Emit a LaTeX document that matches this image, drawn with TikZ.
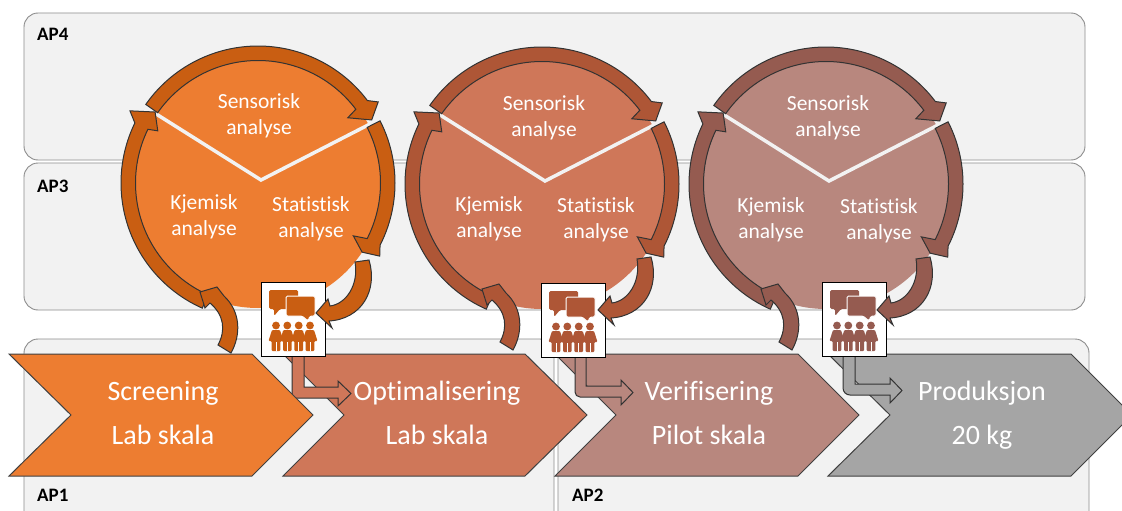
\documentclass[tikz,border=0pt]{standalone}
\usepackage{fontspec}
\setmainfont{Carlito}[Ligatures=NoCommon]
\usetikzlibrary{arrows.meta,calc}

\definecolor{pOrange}{HTML}{ED7D31}
\definecolor{pOrangeD}{HTML}{C95E12}
\definecolor{pRust}{HTML}{CF7759}
\definecolor{pRustD}{HTML}{AE5636}
\definecolor{pRose}{HTML}{B8877E}
\definecolor{pRoseD}{HTML}{955B50}
\definecolor{pGrey}{HTML}{A5A5A5}
\definecolor{pPanel}{HTML}{F2F2F2}

\tikzset{
  panelBox/.style={draw=black!45,fill=pPanel,line width=.9pt,rounded corners=14pt},
  panelText/.style={font=\bfseries\fontsize{19}{22}\selectfont,text=black,inner sep=0pt},
  cycleText/.style={font=\fontsize{21.5}{26}\selectfont,text=white,align=center,inner sep=0pt},
  chevText/.style={font=\fontsize{28}{44}\selectfont,text=white,align=center,inner sep=0pt},
  chevBox/.style={fill=#1,draw=black!75,line width=1pt,line join=miter},
  blockArrow/.style={fill=#1,draw=black!80,line width=1pt,line join=miter},
  iconBox/.style={draw=black,fill=white,line width=1pt,inner sep=0pt,minimum width=64pt,minimum height=74pt}
}

% ring arrow: start, neck, outer barb, its radius, tip, its radius, inner barb, its radius
\newcommand{\ringArrow}[8]{
  \path[blockArrow=\pRing] (#1:137pt) arc[start angle=#1,end angle=#2,radius=137pt]
    -- (#3:#4 pt) -- (#5:#6 pt) -- (#7:#8 pt) -- (#2:122.5pt)
    arc[start angle=#2,end angle=#1,radius=122.5pt] -- cycle;
}
% disk with split lines and ring: x, y, disk colour, ring colour
\newcommand{\cycleDisk}[4]{
  \def\pRing{#4}
  \begin{scope}[shift={(#1,#2)},x=1pt,y=1pt]
    \fill[#3] (0,0) circle (125pt);
    \draw[pPanel,line width=3.5pt] (-105,71) -- (3,3) -- (114,60);
    \ringArrow{246}{154}{150.6}{147}{145.4}{125}{152.5}{113}
    \ringArrow{145}{37}{34}{145}{29}{130}{36}{111}
    \ringArrow{27}{-27}{-31}{142}{-33.6}{125}{-29}{109}
  \end{scope}
}
% the two short arrows: dx, dy, colour
\newcommand{\sideArrows}[3]{
  \begin{scope}[shift={(#1,#2)}]
    \path[blockArrow=#3] (231,353) .. controls (241,335) and (241,312) .. (224,296) -- (217,287)
      -- (200,292) -- (205,308) -- (210,303) .. controls (224,315) and (226,330) .. (218,345) -- cycle;
    \path[blockArrow=#3] (355,262) -- (369,260) .. controls (378,290) and (362,319) .. (329,321)
      -- (332,328) -- (316,313) -- (328,299) -- (330,306) .. controls (346,304) and (359,285) .. (355,262) -- cycle;
  \end{scope}
}
% bent arrow: x left, x right, shaft top, shaft bottom, x neck, x tip, radius, colour
\newcommand{\bentArrow}[8]{
  \path[blockArrow=#8] (#1,356) [rounded corners=#7pt] -- (#1,#4) [sharp corners] -- (#5,#4)
    -- (#5,{#4+8}) -- (#6,{#3+6.5}) -- (#5,{#3-6}) -- (#5,#3) -- (#2,#3) -- (#2,356) -- cycle;
}
% speech bubbles and people in the box: name, colour
\newcommand{\talkIcon}[2]{
  \begin{scope}[shift={(#1.north west)}]
    \fill[#2,rounded corners=1.5pt] (8,8) -- (37,8) -- (37,27) -- (19,27) -- (13,34) -- (13,27) -- (8,27) -- cycle;
    \fill[#2,rounded corners=1.5pt,draw=white,line width=1pt] (25,14) -- (54,14) -- (54,34) -- (49,34) -- (47,39) -- (41,34) -- (25,34) -- cycle;
    \foreach\px in {15,26.3,37.7,49} {
      \fill[#2] (\px,43.5) circle (3.9);
      \fill[#2,rounded corners=1pt] (\px-4,48) -- (\px+4,48) -- (\px+7.5,59)
        -- (\px+4.3,59) -- (\px+4.3,69) -- (\px-4.3,69) -- (\px-4.3,59) -- (\px-7.5,59) -- cycle;
      \draw[white,line width=.6pt] (\px,60) -- (\px,69);
    }
  \end{scope}
}

\begin{document}
\begin{tikzpicture}[x=1pt,y=-1pt]
  \useasboundingbox (0,0) rectangle (1122,511);
  \clip (0,0) rectangle (1122,511);
  % panels
  \draw[panelBox] (24,13) rectangle (1085,160);
  \draw[panelBox] (24,163) rectangle (1085,310);
  \draw[panelBox] (24,339) rectangle (554,530);
  \draw[panelBox] (558,339) rectangle (1089,530);
  \node[panelText,anchor=west] (ap4) at (37,34) {AP4};
  \node[panelText,anchor=west] (ap3) at (37,186) {AP3};
  \node[panelText,anchor=west] (ap1) at (37,495) {AP1};
  \node[panelText,anchor=west] (ap2) at (572,495) {AP2};
  % disks
  \cycleDisk{258}{183}{pOrange}{pOrangeD}
  \cycleDisk{542}{184}{pRust}{pRustD}
  \cycleDisk{826}{184}{pRose}{pRoseD}
  \node[cycleText] (sensA) at (259,116) {Sensorisk\\analyse};
  \node[cycleText] (kjemA) at (204,217) {Kjemisk\\analyse};
  \node[cycleText] (statA) at (311,219) {Statistisk\\analyse};
  \node[cycleText] (sensB) at (544,118) {Sensorisk\\analyse};
  \node[cycleText] (kjemB) at (489,219) {Kjemisk\\analyse};
  \node[cycleText] (statB) at (596,220) {Statistisk\\analyse};
  \node[cycleText] (sensC) at (828,118) {Sensorisk\\analyse};
  \node[cycleText] (kjemC) at (771,220) {Kjemisk\\analyse};
  \node[cycleText] (statC) at (879,221) {Statistisk\\analyse};
  % chevrons
  \path[chevBox=pRust] (283,354) -- (525,354) -- (587,415) -- (525,476) -- (283,476) -- (344,415) -- cycle;
  \path[chevBox=pRose] (555,354) -- (798,354) -- (859,415) -- (798,476) -- (555,476) -- (616,415) -- cycle;
  \path[chevBox=pGrey] (828,354) -- (1071,354) -- (1132,415) -- (1071,476) -- (828,476) -- (890,415) -- cycle;
  % bent arrows
  \bentArrow{292}{304}{387}{398}{338}{351}{.1}{pRust}
  \bentArrow{575}{586}{386}{397}{621}{633}{5}{pRose}
  \bentArrow{843}{855}{384}{395}{890}{902}{7}{pGrey}
  \path[chevBox=pOrange] (9,354) -- (252,354) -- (313,415) -- (252,476) -- (9,476) -- (71,415) -- cycle;
  \node[chevText] (chevA) at (163,413) {Screening\\Lab skala};
  \node[chevText] (chevB) at (437,413) {Optimalisering\\Lab skala};
  \node[chevText] (chevC) at (709,413) {Verifisering\\Pilot skala};
  \node[chevText] (chevD) at (982,415) {Produksjon\\20 kg};
  % people boxes
  \node[iconBox,anchor=north west] (iconA) at (261,282) {};
  \node[iconBox,anchor=north west] (iconB) at (541,283) {};
  \node[iconBox,anchor=north west] (iconC) at (822,282) {};
  \talkIcon{iconA}{pOrangeD}
  \talkIcon{iconB}{pRustD}
  \talkIcon{iconC}{pRoseD}
  % short arrows
  \sideArrows{0}{0}{pOrangeD}
  \sideArrows{282}{-3}{pRustD}
  \sideArrows{561}{-3}{pRoseD}
\end{tikzpicture}
\end{document}
